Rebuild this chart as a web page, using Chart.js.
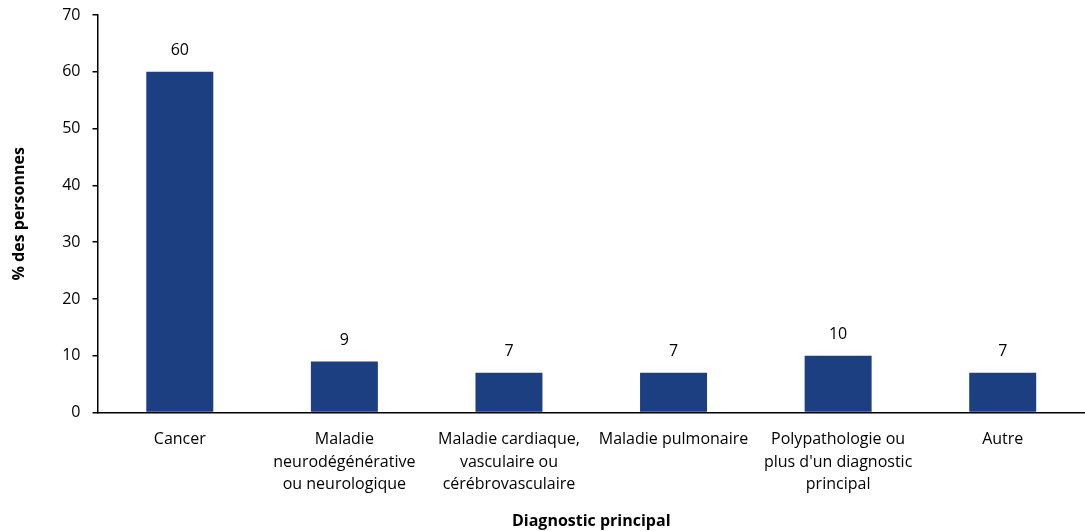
<!DOCTYPE html>
<html>
<head>
<meta charset="utf-8">
<script src="https://cdn.jsdelivr.net/npm/chart.js@4"></script>
<style>
  html, body { margin: 0; padding: 0; background: #fff; }
  #wrap { width: 1085px; height: 531px; position: relative; }
</style>
</head>
<body>
<div id="wrap"><canvas id="chart"></canvas></div>
<script>
  const categories = [
    "Cancer",
    ["Maladie", "neurodégénérative", "ou neurologique"],
    ["Maladie cardiaque,", "vasculaire ou", "cérébrovasculaire"],
    "Maladie pulmonaire",
    ["Polypathologie ou", "plus d'un diagnostic", "principal"],
    "Autre"
  ];
  const percentages = [60, 9, 7, 7, 10, 7];
  const yTicks = { min: 0, max: 70, step: 10 };

  const fontFamily = "'Open Sans', 'Liberation Sans', sans-serif";
  const barColor = "#1c3f81";

  const valueLabels = {
    id: "valueLabels",
    afterDatasetsDraw(chart) {
      const { ctx } = chart;
      const meta = chart.getDatasetMeta(0);
      ctx.save();
      ctx.font = `16px ${fontFamily}`;
      ctx.fillStyle = "#000";
      ctx.textAlign = "center";
      ctx.textBaseline = "middle";
      meta.data.forEach((bar, i) => {
        ctx.fillText(String(percentages[i]), bar.x, bar.y - 21);
      });
      ctx.restore();
    }
  };

  new Chart(document.getElementById("chart"), {
    type: "bar",
    data: {
      labels: categories,
      datasets: [{ data: percentages, backgroundColor: barColor, categoryPercentage: 1, barPercentage: 0.407 }]
    },
    options: {
      responsive: true,
      maintainAspectRatio: false,
      animation: false,
      layout: { padding: { top: 0, right: 0, left: 10, bottom: 0 } },
      plugins: { legend: { display: false }, tooltip: { enabled: false } },
      scales: {
        x: {
          grid: { display: false },
          border: { display: true, color: "#000", width: 1.5 },
          ticks: { color: "#000", font: { family: fontFamily, size: 16, lineHeight: 1.4 }, maxRotation: 0, autoSkip: false, padding: 8 },
          title: { display: true, text: "Diagnostic principal", color: "#000", font: { family: fontFamily, size: 16, weight: "bold" }, padding: { top: 8, bottom: 0 } }
        },
        y: {
          min: yTicks.min,
          max: yTicks.max,
          afterFit(scale) { scale.paddingTop = 15; },
          ticks: { stepSize: yTicks.step, color: "#000", font: { family: fontFamily, size: 16 }, padding: 12 },
          grid: { drawOnChartArea: false, drawTicks: true, tickLength: 5, color: "#000", lineWidth: 1.5 },
          border: { display: true, color: "#000", width: 1.5 },
          title: { display: true, text: "% des personnes", color: "#000", font: { family: fontFamily, size: 16, weight: "bold" }, padding: { top: 0, bottom: 21 } }
        }
      }
    },
    plugins: [valueLabels]
  });
</script>
</body>
</html>
